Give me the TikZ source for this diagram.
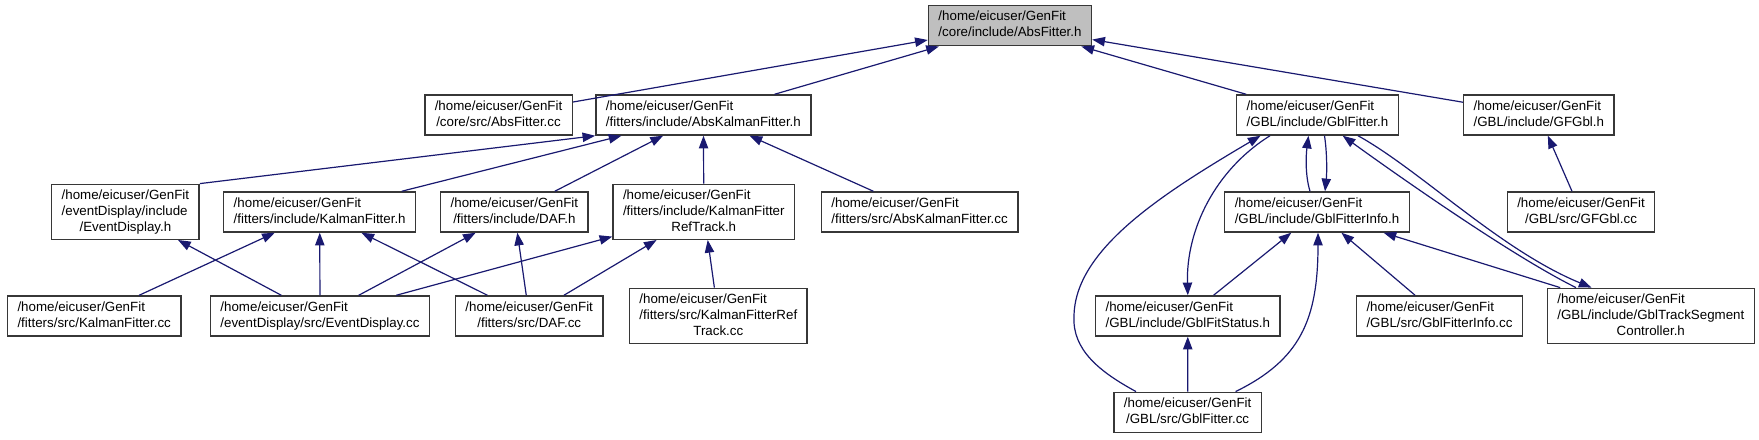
\documentclass[tikz,border=0pt]{standalone}
\usepackage{fontspec}
\setmainfont{Liberation Sans}
\usetikzlibrary{arrows.meta,calc}

\newcommand{\twoln}[2]{\begin{tabular}{@{}l@{}}#1\\\multicolumn{1}{@{}c@{}}{#2}\end{tabular}}
\newcommand{\threeln}[3]{\begin{tabular}{@{}l@{}}#1\\#2\\\multicolumn{1}{@{}c@{}}{#3}\end{tabular}}

\begin{document}
\begin{tikzpicture}[x=0.75pt,y=0.75pt,yscale=-1,xscale=1,
  file/.style={draw={rgb, 255:red, 55; green, 55; blue, 55 }, line width=1.1pt, fill=white, text=black,
    inner xsep=7.5pt, inner ysep=2.6pt, minimum height=30pt, font=\fontsize{10}{12}\selectfont},
  root/.style={file, fill={rgb, 255:red, 191; green, 191; blue, 191 }},
  dep/.style={color={rgb, 255:red, 25; green, 25; blue, 112 }, line width=0.9pt, -{Triangle[length=9.5pt,width=7pt]}}]
 \useasboundingbox (0,0) rectangle (1759,439);

 % Text Node
 \draw (1010,25.7) node [root] (absfitterh) {\twoln{/home/eicuser/GenFit}{/core/include/AbsFitter.h}};
 % Text Node
 \draw (498.5,115) node [file] (absfittercc) {\twoln{/home/eicuser/GenFit}{/core/src/AbsFitter.cc}};
 % Text Node
 \draw (703.4,115) node [file] (abskalmanh) {\twoln{/home/eicuser/GenFit}{/fitters/include/AbsKalmanFitter.h}};
 % Text Node
 \draw (1317.5,115) node [file] (gblfitterh) {\twoln{/home/eicuser/GenFit}{/GBL/include/GblFitter.h}};
 % Text Node
 \draw (1538.8,115) node [file] (gfgblh) {\twoln{/home/eicuser/GenFit}{/GBL/include/GFGbl.h}};
 % Text Node
 \draw (125.4,211.8) node [file] (eventdisplayh) {\threeln{/home/eicuser/GenFit}{/eventDisplay/include}{/EventDisplay.h}};
 % Text Node
 \draw (319.7,212) node [file] (kalmanh) {\twoln{/home/eicuser/GenFit}{/fitters/include/KalmanFitter.h}};
 % Text Node
 \draw (514.4,212) node [file] (dafh) {\twoln{/home/eicuser/GenFit}{/fitters/include/DAF.h}};
 % Text Node
 \draw (703.8,211.8) node [file] (reftrackh) {\threeln{/home/eicuser/GenFit}{/fitters/include/KalmanFitter}{RefTrack.h}};
 % Text Node
 \draw (919.6,212) node [file] (abskalmancc) {\twoln{/home/eicuser/GenFit}{/fitters/src/AbsKalmanFitter.cc}};
 % Text Node
 \draw (1317,212) node [file] (gblfitterinfoh) {\twoln{/home/eicuser/GenFit}{/GBL/include/GblFitterInfo.h}};
 % Text Node
 \draw (1581,212) node [file] (gfgblcc) {\twoln{/home/eicuser/GenFit}{/GBL/src/GFGbl.cc}};
 % Text Node
 \draw (94.2,316) node [file] (kalmancc) {\twoln{/home/eicuser/GenFit}{/fitters/src/KalmanFitter.cc}};
 % Text Node
 \draw (320,316) node [file] (eventdisplaycc) {\twoln{/home/eicuser/GenFit}{/eventDisplay/src/EventDisplay.cc}};
 % Text Node
 \draw (529.2,316) node [file] (dafcc) {\twoln{/home/eicuser/GenFit}{/fitters/src/DAF.cc}};
 % Text Node
 \draw (718.3,315.8) node [file] (reftrackcc) {\threeln{/home/eicuser/GenFit}{/fitters/src/KalmanFitterRef}{Track.cc}};
 % Text Node
 \draw (1187.8,316) node [file] (gblfitstatush) {\twoln{/home/eicuser/GenFit}{/GBL/include/GblFitStatus.h}};
 % Text Node
 \draw (1439.5,316) node [file] (gblfitterinfocc) {\twoln{/home/eicuser/GenFit}{/GBL/src/GblFitterInfo.cc}};
 % Text Node
 \draw (1650.8,315.8) node [file] (gbltrackh) {\threeln{/home/eicuser/GenFit}{/GBL/include/GblTrackSegment}{Controller.h}};
 % Text Node
 \draw (1187.6,412.3) node [file] (gblfittercc) {\twoln{/home/eicuser/GenFit}{/GBL/src/GblFitter.cc}};

 %Straight Lines
 \draw [dep] (absfittercc) -- (absfitterh) ;
 \draw [dep] (abskalmanh) -- (absfitterh) ;
 \draw [dep] (gblfitterh) -- (absfitterh) ;
 \draw [dep] (gfgblh) -- (absfitterh) ;
 %Straight Lines
 \draw [dep] (eventdisplayh.north east) -- (abskalmanh.south west) ;
 \draw [dep] (kalmanh) -- (abskalmanh) ;
 \draw [dep] (dafh) -- (abskalmanh) ;
 \draw [dep] (reftrackh) -- (abskalmanh) ;
 \draw [dep] (abskalmancc) -- (abskalmanh) ;
 %Straight Lines
 \draw [dep] (eventdisplaycc) -- (eventdisplayh) ;
 \draw [dep] (kalmancc) -- (kalmanh) ;
 \draw [dep] (eventdisplaycc) -- (kalmanh) ;
 \draw [dep] (dafcc) -- (kalmanh) ;
 \draw [dep] (eventdisplaycc) -- (dafh) ;
 \draw [dep] (dafcc) -- (dafh) ;
 \draw [dep] (eventdisplaycc) -- (reftrackh) ;
 \draw [dep] (dafcc) -- (reftrackh) ;
 \draw [dep] (reftrackcc) -- (reftrackh) ;
 %Straight Lines
 \draw [dep] (gfgblcc) -- (gfgblh) ;
 \draw [dep] (gblfitstatush) -- (gblfitterinfoh) ;
 \draw [dep] (gblfitterinfocc) -- (gblfitterinfoh) ;
 \draw [dep] (gbltrackh) -- (gblfitterinfoh) ;
 \draw [dep] (gblfittercc) -- (gblfitstatush) ;

 %Curve Lines
 \draw [dep] ($(gblfitterinfoh.north)+(-7,0)$) .. controls (1305,175) and (1306,155) .. ($(gblfitterh.south)+(-9,0)$) ;
 %Curve Lines
 \draw [dep] ($(gblfitterh.south)+(7,0)$) .. controls (1327,152) and (1327,172) .. ($(gblfitterinfoh.north)+(8,0)$) ;
 %Curve Lines
 \draw [dep] ($(gblfitterh.south)+(-47.5,0)$) .. controls (1215,170) and (1186,230) .. (gblfitstatush.north) ;
 %Curve Lines
 \draw [dep] ($(gblfittercc.north)+(-51.6,0)$) .. controls (1100,372) and (1072,350) .. (1074,316) .. controls (1075,250) and (1160,195) .. ($(gblfitterh.south)+(-57,0)$) ;
 %Curve Lines
 \draw [dep] ($(gblfittercc.north)+(48,0)$) .. controls (1300,360) and (1318,320) .. ($(gblfitterinfoh.south)+(1,0)$) ;
 %Curve Lines
 \draw [dep] ($(gblfitterh.south)+(40.5,0)$) .. controls (1420,170) and (1500,250) .. ($(gbltrackh.north)+(-59.3,0)$) ;
 %Curve Lines
 \draw [dep] ($(gbltrackh.north)+(-74.8,0)$) .. controls (1510,255) and (1390,170) .. ($(gblfitterh.south)+(25.2,0)$) ;

\end{tikzpicture}
\end{document}
